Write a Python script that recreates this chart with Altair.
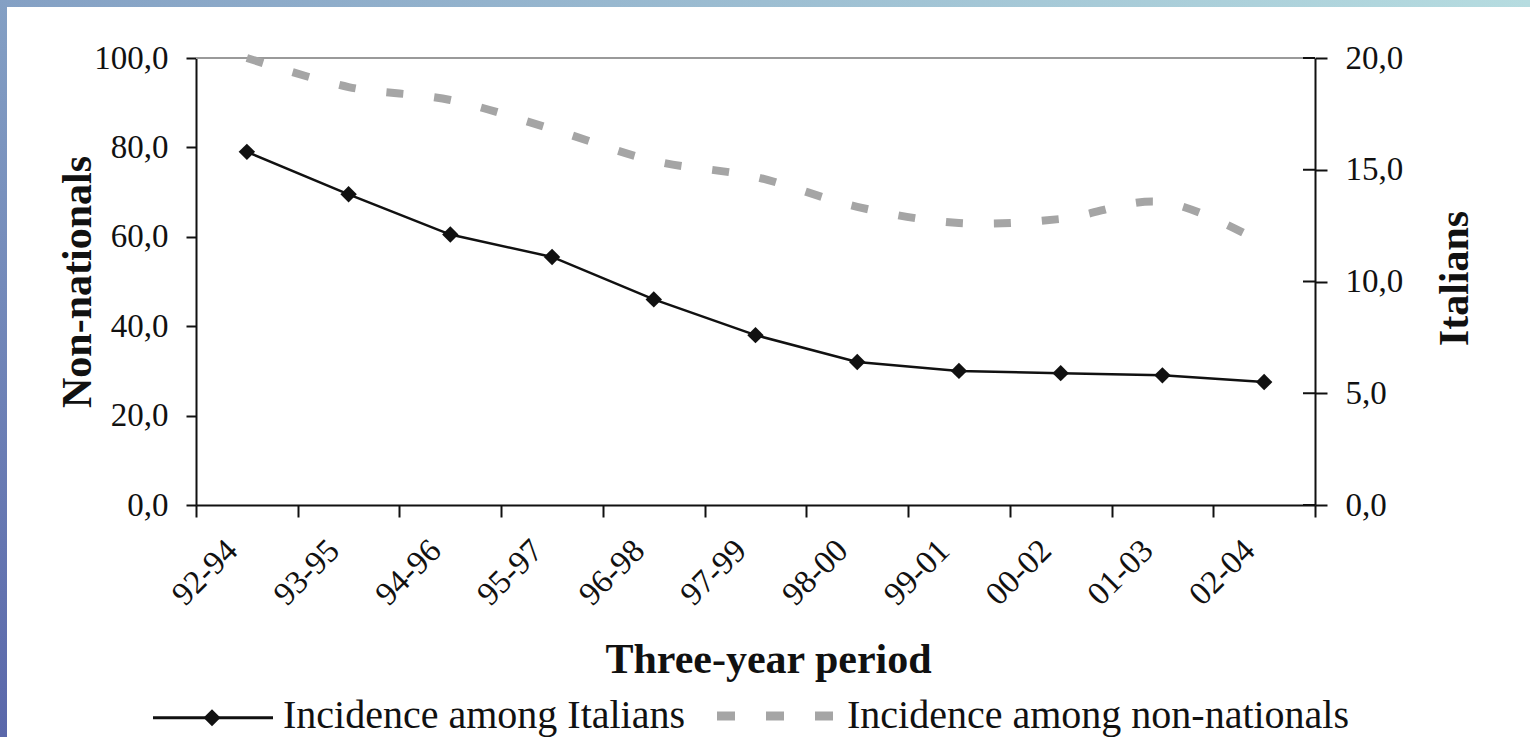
import altair as alt
import pandas as pd

# Three-year periods and incidence values
periods = ["92-94", "93-95", "94-96", "95-97", "96-98", "97-99",
           "98-00", "99-01", "00-02", "01-03", "02-04"]
italians = [15.8, 13.9, 12.1, 11.1, 9.2, 7.6, 6.4, 6.0, 5.9, 5.8, 5.5]
non_nationals = [100.0, 93.5, 90.6, 84.1, 77.0, 73.4, 66.7, 63.1, 64.0, 67.8, 58.4]

left_ticks = [0, 20, 40, 60, 80, 100]
right_ticks = [0, 5, 10, 15, 20]
legend_labels = ["Incidence among Italians", "Incidence among non-nationals"]

W, H = 1119, 447
FONT = "Liberation Serif"
BLACK = "#111111"
GREY = "#a5a5a5"
COMMA_FMT = "replace(format(datum.value, '.1f'), '.', ',')"

df = pd.DataFrame({"period": periods, "italians": italians,
                   "non_nationals": non_nationals})
one = pd.DataFrame({"k": [0]})

x_enc = alt.X(
    "period:N", sort=periods,
    scale=alt.Scale(type="band", paddingInner=0, paddingOuter=0),
    axis=alt.Axis(
        title="Three-year period", titleFont=FONT, titleFontSize=42,
        titleFontWeight="bold", titleColor=BLACK, titleX=572, titleY=167,
        titleAlign="center", titleBaseline="alphabetic", titleAngle=0,
        labelAngle=315, labelAlign="right", labelBaseline="middle",
        labelFont=FONT, labelFontSize=33, labelColor=BLACK,
        labelPadding=28, labelOffset=-15, labelOverlap=False,
        tickBand="extent", tickSize=12, tickWidth=2, tickColor=BLACK,
        domainColor=BLACK, domainWidth=2, grid=False,
    ),
)

# Background frame bands
top_band = alt.Chart(one).mark_rect(
    color=alt.LinearGradient(
        gradient="linear", x1=0, x2=1, y1=0, y2=0,
        stops=[alt.GradientStop(offset=0, color="#84a0c4"),
               alt.GradientStop(offset=1, color="#b6dce0")],
    )
).encode(x=alt.value(-196), x2=alt.value(1334), y=alt.value(-58), y2=alt.value(-51))

left_band = alt.Chart(one).mark_rect(
    color=alt.LinearGradient(
        gradient="linear", x1=0, x2=0, y1=0, y2=1,
        stops=[alt.GradientStop(offset=0, color="#84a0c4"),
               alt.GradientStop(offset=1, color="#5a67aa")],
    )
).encode(x=alt.value(-196), x2=alt.value(-189), y=alt.value(-58), y2=alt.value(679))

top_border = alt.Chart(one).mark_rule(color="#9a9a9a", strokeWidth=2).encode(
    x=alt.value(0), x2=alt.value(W), y=alt.value(0)
)

base = alt.Chart(df)

non_nat_line = base.mark_line(
    color=GREY, strokeWidth=8, strokeDash=[17, 31], strokeCap="butt",
    interpolate="catmull-rom",
).encode(
    x=x_enc,
    y=alt.Y(
        "non_nationals:Q",
        scale=alt.Scale(domain=[0, 100], nice=False),
        axis=alt.Axis(
            values=left_ticks, labelExpr=COMMA_FMT,
            title="Non-nationals", titleFont=FONT, titleFontSize=42,
            titleFontWeight="bold", titleColor=BLACK, titleAngle=270,
            titleX=-106, titleY=223.5, titleAlign="center",
            titleBaseline="alphabetic",
            labelFont=FONT, labelFontSize=33, labelColor=BLACK, labelPadding=18,
            tickSize=10, tickWidth=2, tickColor=BLACK,
            domainColor=BLACK, domainWidth=2, grid=False,
        ),
    ),
)

ital_y_scale = alt.Scale(domain=[0, 20], nice=False)

ital_line = base.mark_line(color=BLACK, strokeWidth=2.5).encode(
    x=x_enc,
    y=alt.Y(
        "italians:Q", scale=ital_y_scale,
        axis=alt.Axis(
            orient="right", values=right_ticks, labelExpr=COMMA_FMT,
            title="Italians", titleFont=FONT, titleFontSize=42,
            titleFontWeight="bold", titleColor=BLACK, titleAngle=270,
            titleX=152, titleY=220, titleAlign="center",
            titleBaseline="alphabetic",
            labelFont=FONT, labelFontSize=33, labelColor=BLACK, labelPadding=18,
            tickSize=12, tickWidth=2, tickColor=BLACK,
            domainColor=BLACK, domainWidth=2, grid=False,
        ),
    ),
)

ital_pts = base.mark_point(
    shape="diamond", filled=True, color=BLACK, size=270, opacity=1
).encode(
    x=x_enc,
    y=alt.Y("italians:Q", scale=ital_y_scale, axis=None),
)

# Inner half of the crossing ticks on the right axis
inner_ticks = alt.Chart(pd.DataFrame({"v": right_ticks})).mark_rule(
    color=BLACK, strokeWidth=2
).encode(
    y=alt.Y("v:Q", scale=ital_y_scale, axis=None),
    x=alt.value(W - 12), x2=alt.value(W),
)

# Legend row
leg_line = alt.Chart(one).mark_rule(color=BLACK, strokeWidth=3).encode(
    x=alt.value(-43), x2=alt.value(77), y=alt.value(659.7)
)
leg_diamond = alt.Chart(one).mark_point(
    shape="diamond", filled=True, color=BLACK, size=290, opacity=1
).encode(x=alt.value(16), y=alt.value(659.7))
leg_text1 = alt.Chart(pd.DataFrame({"label": [legend_labels[0]]})).mark_text(
    font=FONT, fontSize=40, color=BLACK, align="left", baseline="alphabetic"
).encode(text="label:N", x=alt.value(87), y=alt.value(670.3))
leg_dash = alt.Chart(one).mark_rule(
    color=GREY, strokeWidth=9, strokeDash=[18, 31], strokeCap="butt"
).encode(x=alt.value(521), x2=alt.value(639), y=alt.value(658))
leg_text2 = alt.Chart(pd.DataFrame({"label": [legend_labels[1]]})).mark_text(
    font=FONT, fontSize=40, color=BLACK, align="left", baseline="alphabetic"
).encode(text="label:N", x=alt.value(651), y=alt.value(670.3))

chart = alt.layer(
    top_band, left_band, top_border,
    non_nat_line, ital_line, ital_pts, inner_ticks,
    leg_line, leg_diamond, leg_text1, leg_dash, leg_text2,
).resolve_scale(
    y="independent"
).properties(
    width=W, height=H,
    autosize=alt.AutoSizeParams(type="none"),
    padding={"left": 196, "top": 58, "right": 215, "bottom": 232},
    background="white",
).configure_view(stroke=None).configure_text(font=FONT)

chart.save("out.html", embed_options={"renderer": "svg", "actions": False})
